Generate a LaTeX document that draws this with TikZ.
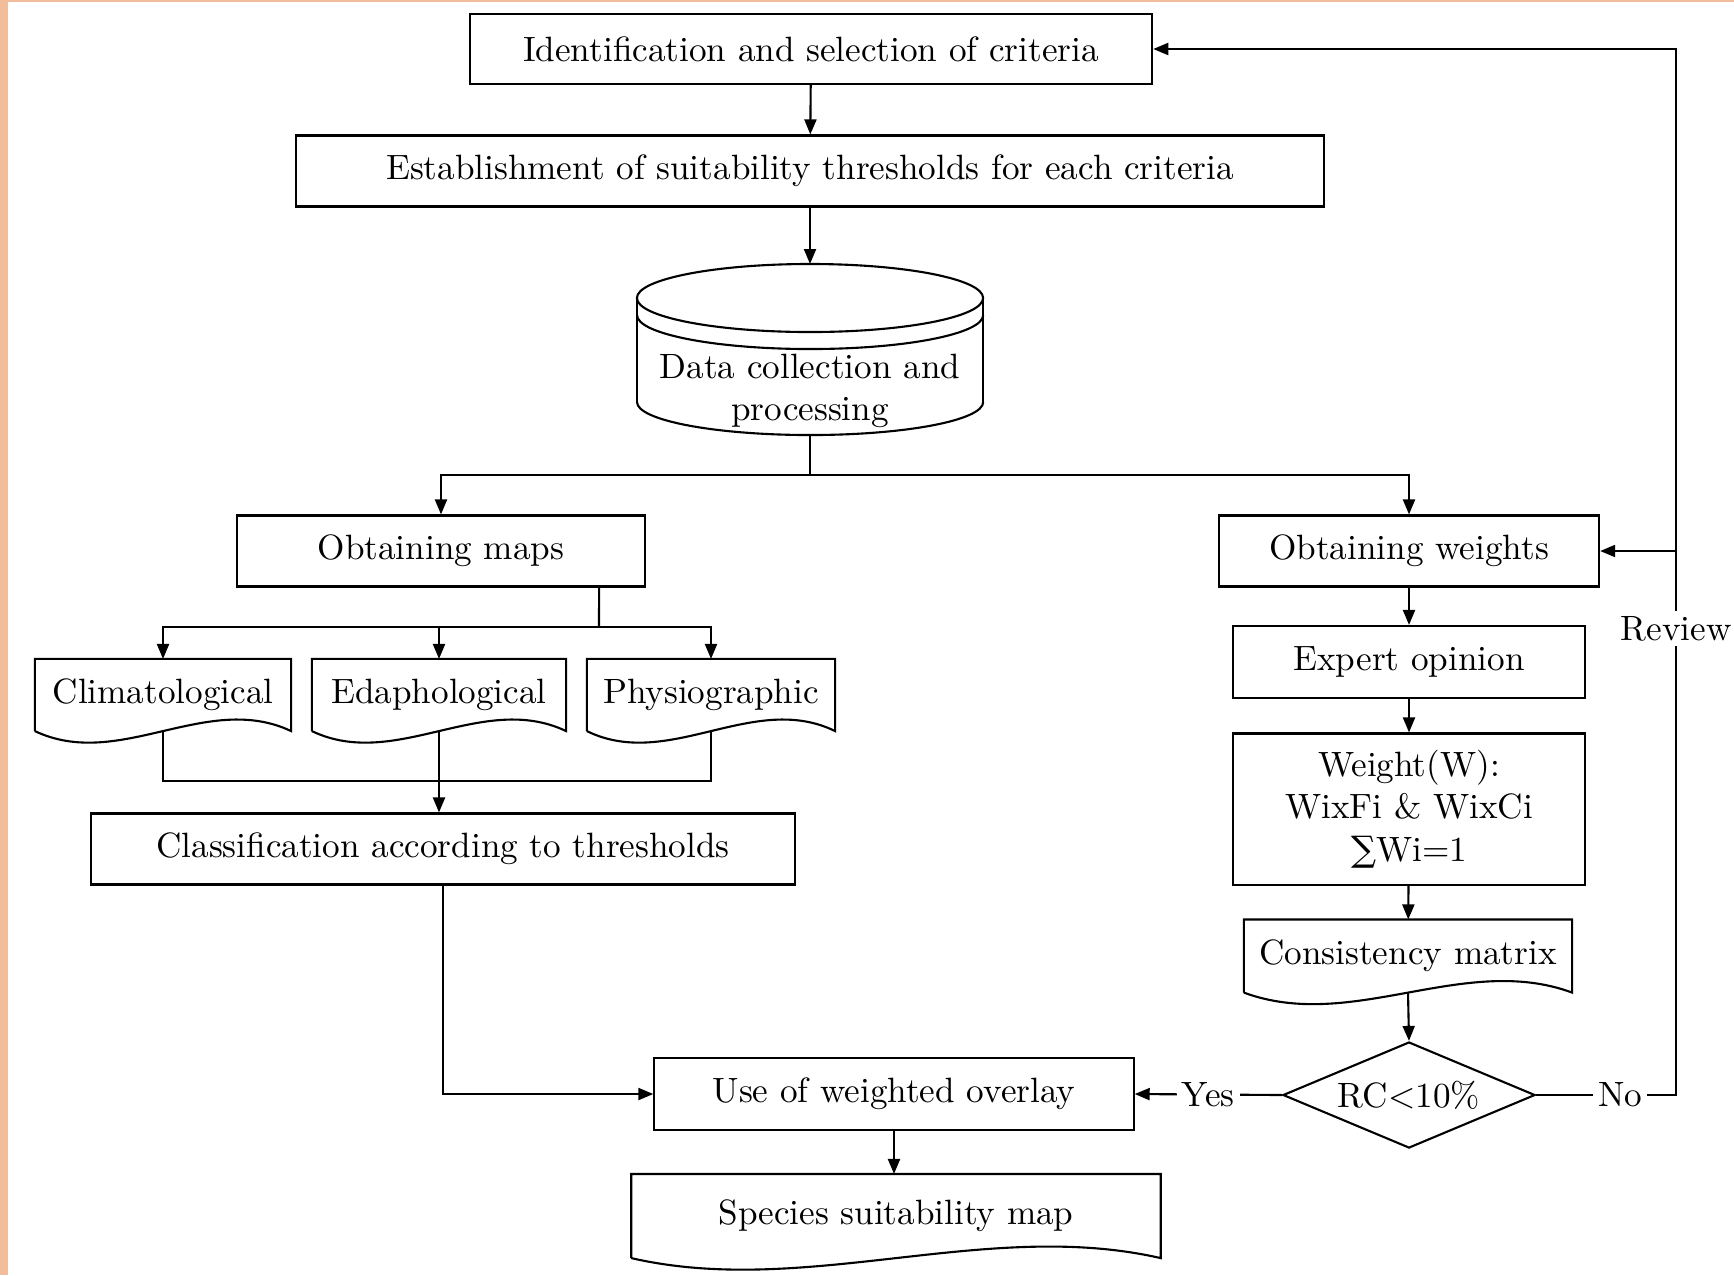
\documentclass[tikz,border=0pt]{standalone}
\usepackage{fontspec}
\usetikzlibrary{calc,arrows.meta,shapes.geometric}

\newfontfamily\sumfont{DejaVu Serif}
\definecolor{edgeband}{HTML}{F1BD9B}
% outline of a document shape: box with a wavy bottom edge
\newcommand{\docoutline}[1]{%
  \draw (#1.south west) -- (#1.north west) -- (#1.north east) -- (#1.south east)
    .. controls ($(#1.south east)!0.33!(#1.south west)+(0cm,0.4cm)$) and ($(#1.south east)!0.67!(#1.south west)+(0cm,-0.4cm)$) .. (#1.south west);}

\begin{document}
\begin{tikzpicture}[x=0.01cm, y=-0.01cm, line width=0.6pt,
    box/.style={draw, rectangle, inner sep=2pt, align=center},
    doc/.style={rectangle, inner sep=2pt, align=center},
    arr/.style={-{Triangle[length=1.5mm,width=1.2mm]}},
    lbl/.style={fill=white, inner sep=1.5pt}]
    \useasboundingbox (0,0) rectangle (1734,1275);
    \fill[edgeband] (0,0) rectangle (8,1275);
    \fill[edgeband] (0,0) rectangle (1734,2);

    % criteria and thresholds
    \node[box, minimum width=6.82cm, minimum height=0.70cm] (ident) at (811,49) {Identification and selection of criteria};
    \node[box, minimum width=10.27cm, minimum height=0.71cm] (estab) at (810,171) {Establishment of suitability thresholds for each criteria};
    \draw[arr] (ident) -- (estab);

    % data cylinder
    \coordinate (datatop) at (810,264);
    \coordinate (databot) at (810,435);
    \draw (810,298) ellipse [x radius=1.73cm, y radius=0.34cm];
    \draw (637,315) arc[start angle=180, end angle=360, x radius=1.73cm, y radius=0.34cm];
    \draw (637,298) -- (637,402);
    \draw (983,298) -- (983,402);
    \draw (637,402) arc[start angle=180, end angle=360, x radius=1.73cm, y radius=0.33cm];
    \node[align=center] (data) at (810,391) {Data collection and\\processing};
    \draw[arr] (estab) -- (datatop);

    % two branches
    \node[box, minimum width=4.08cm, minimum height=0.71cm] (maps) at (441,551) {Obtaining maps};
    \node[box, minimum width=3.80cm, minimum height=0.71cm] (weights) at (1409,551) {Obtaining weights};
    \coordinate (split) at (810,475);
    \draw[arr] (databot) -- (split) -| (maps);
    \draw[arr] (split) -| (weights);

    % map themes
    \node[doc, minimum width=2.54cm, minimum height=0.70cm] (clim) at (163,695) {Climatological};
    \node[doc, minimum width=2.52cm, minimum height=0.70cm] (edaph) at (439,695) {Edaphological};
    \node[doc, minimum width=2.46cm, minimum height=0.70cm] (phys) at (711,695) {Physiographic};
    \docoutline{clim}
    \docoutline{edaph}
    \docoutline{phys}
    \coordinate (split2) at (599,627);
    \draw ([xshift=1.58cm]maps.south) -- (split2);
    \draw[arr] (split2) -| (clim);
    \draw[arr] (split2) -| (edaph);
    \draw[arr] (split2) -| (phys);

    \node[box, minimum width=7.04cm, minimum height=0.71cm] (classif) at (443,849) {Classification according to thresholds};
    \coordinate (merge) at (439,781);
    \draw (clim.south) |- (merge);
    \draw (phys.south) |- (merge);
    \draw[arr] (edaph.south) -- (edaph.south |- classif.north);

    % weights column
    \node[box, minimum width=3.52cm, minimum height=0.72cm] (expert) at (1409,662) {Expert opinion};
    \node[box, minimum width=3.52cm, minimum height=1.51cm] (weight) at (1409,809) {Weight(W):\\WixFi \& WixCi\\{\sumfont ∑}Wi=1};
    \node[doc, minimum width=3.26cm, minimum height=0.71cm] (consist) at (1408,956) {Consistency matrix};
    \docoutline{consist}
    \node[draw, diamond, aspect=2.38, inner sep=0pt, minimum width=2.52cm, minimum height=1.06cm] (rc) at (1409,1095) {RC<10\%};
    \draw[arr] (weights) -- (expert);
    \draw[arr] (expert) -- (weight);
    \draw[arr] (weight) -- (consist);
    \draw[arr] (consist.south) -- (rc.north);

    % overlay and result
    \node[box, minimum width=4.79cm, minimum height=0.72cm] (overlay) at (894,1094) {Use of weighted overlay};
    \node[doc, minimum width=5.27cm, minimum height=0.82cm] (species) at (896,1216) {Species suitability map};
    \docoutline{species}
    \draw[arr] (classif.south) |- (overlay.west);
    \draw[arr] (rc.west) -- node[lbl]{Yes} (overlay.east);
    \draw[arr] (overlay.south) -- (overlay.south |- species.north);

    % review loop
    \coordinate (noturn) at (1676,1095);
    \draw[arr] (rc.east) -- node[lbl, pos=0.6]{No} (noturn) -- node[lbl, pos=0.446]{Review} (noturn |- ident.east) -- (ident.east);
    \draw[arr] (noturn |- weights.east) -- (weights.east);
\end{tikzpicture}
\end{document}
